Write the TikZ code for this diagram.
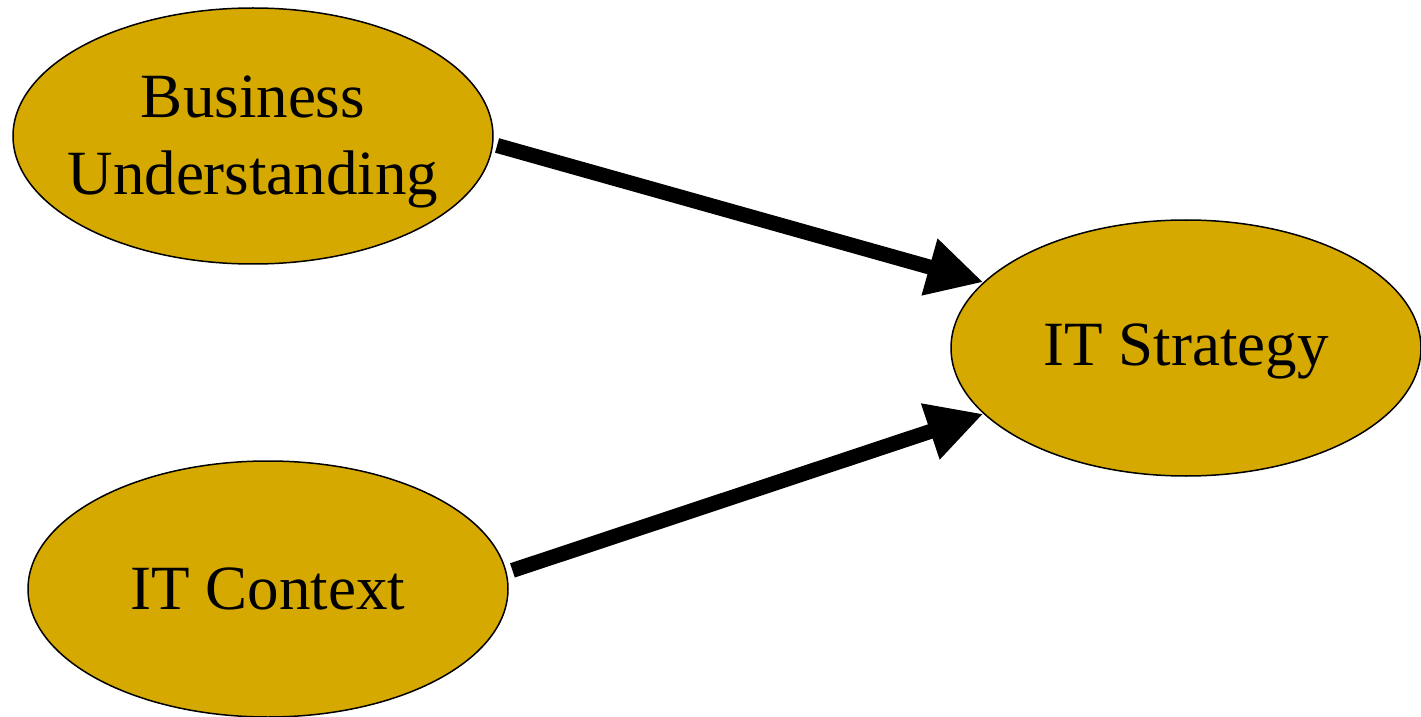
\documentclass[tikz,border=0pt]{standalone}
\usepackage{fontspec}
\setmainfont{Liberation Serif}
\usetikzlibrary{shapes.geometric,arrows.meta}
\definecolor{gold}{RGB}{213,169,0}
\begin{document}
\begin{tikzpicture}[x=0.5pt,y=-0.5pt,
  topic/.style={ellipse,draw=black,line width=0.75pt,fill=gold,
    minimum width=240pt,minimum height=128pt,inner sep=0pt},
  caption/.style={align=center,inner sep=0pt,
    font=\fontsize{31.5}{38.5}\selectfont},
  flow/.style={line width=7.5pt,
    -{Triangle[length=28pt,width=27.5pt]}}]
\useasboundingbox (0,0) rectangle (1421,717);
% the three ellipses
\node[topic] (bu)  at (253,136)  {};
\node[topic] (ic)  at (268,589)  {};
\node[topic,minimum width=235pt] (its) at (1186,348) {};
% their captions
\node[caption] (bu-t)  at ([yshift=-3pt]bu.center)  {Business\\Understanding};
\node[caption] (ic-t)  at (ic.center)  {IT Context};
\node[caption] (its-t) at ([yshift=-1.5pt]its.center) {IT Strategy};
% arrows into the strategy
\draw[flow,shorten <=2pt] (bu.-2) -- (its.162);
\draw[flow,shorten <=3pt] (ic.4.6) -- (its.198.4);
\end{tikzpicture}
\end{document}
